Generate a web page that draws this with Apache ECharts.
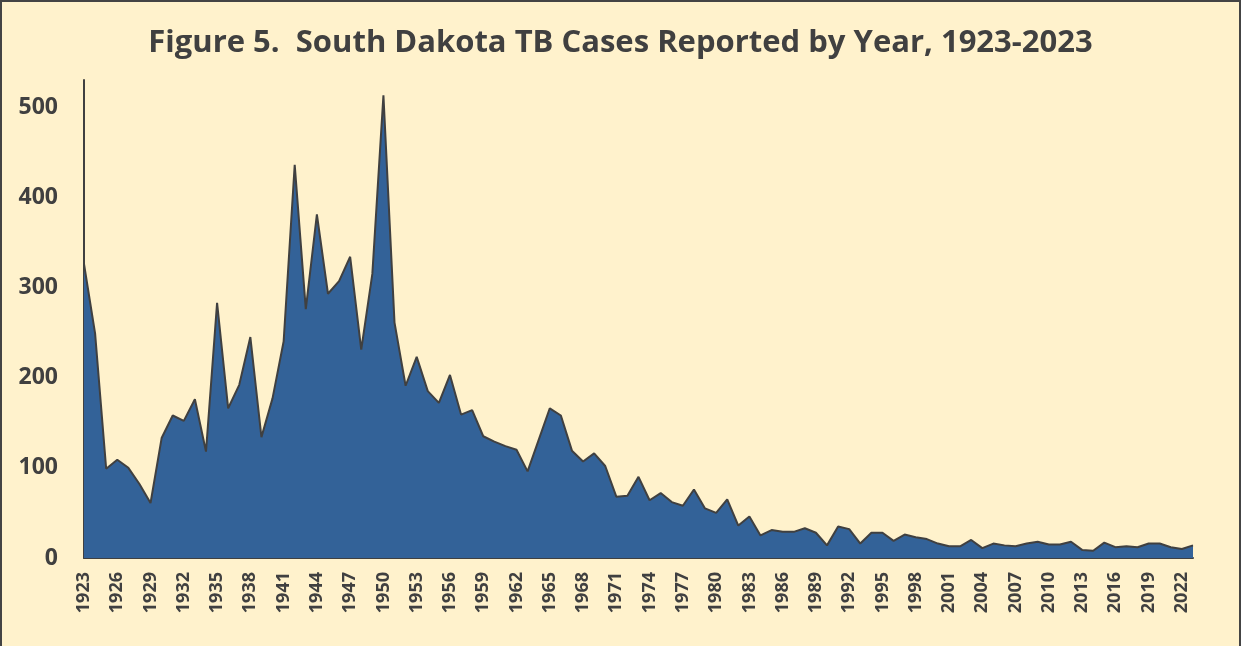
<!DOCTYPE html>
<html>
<head>
<meta charset="utf-8">
<title>South Dakota TB Cases</title>
<script src="https://cdn.jsdelivr.net/npm/echarts@6/dist/echarts.min.js"></script>
<style>
  html, body { margin: 0; padding: 0; background: #FFF2CC; }
  #chart { width: 1241px; height: 646px; }
  #frame {
    position: absolute; left: 0; top: 0; width: 1241px; height: 646px;
    box-sizing: border-box; border: 2px solid #444; border-bottom: none;
    pointer-events: none;
  }
</style>
</head>
<body>
<div id="chart"></div>
<div id="frame"></div>
<script>
// years 1923..2023
var years = [];
for (var y = 1923; y <= 2023; y++) years.push(String(y));

// reported cases per year
var cases = [
  326, 249, 99, 109, 100, 82, 61, 133, 158, 152,     // 1923-1932
  176, 118, 283, 166, 192, 245, 134, 177, 240, 436,  // 1933-1942
  276, 381, 293, 307, 334, 231, 315, 513, 261, 191,  // 1943-1952
  223, 185, 172, 203, 159, 164, 135, 129, 124, 120,  // 1953-1962
  96, 131, 166, 158, 119, 107, 116, 102, 68, 69,     // 1963-1972
  90, 64, 72, 62, 58, 76, 55, 50, 65, 36,            // 1973-1982
  46, 25, 31, 29, 29, 33, 28, 14, 35, 32,            // 1983-1992
  16, 28, 28, 19, 26, 23, 21, 16, 13, 13,            // 1993-2002
  20, 11, 16, 14, 13, 16, 18, 15, 15, 18,            // 2003-2012
  9, 8, 17, 12, 13, 12, 16, 16, 12, 10,              // 2013-2022
  14                                                 // 2023
];

var titleText = 'Figure 5.  South Dakota TB Cases Reported by Year, 1923-2023';
var textColor = '#404040';

var myChart = echarts.init(document.getElementById('chart'));
var option = {
  backgroundColor: '#FFF2CC',
  animation: false,
  title: {
    text: titleText,
    left: 'center',
    top: 23,
    textStyle: {
      fontFamily: 'Open Sans',
      fontWeight: 'bold',
      fontSize: 31,
      color: textColor
    }
  },
  grid: { left: 84, right: 48, top: 80, bottom: 88 },
  xAxis: {
    type: 'category',
    data: years,
    boundaryGap: false,
    axisLine: { show: true, lineStyle: { color: textColor, width: 2 } },
    axisTick: { show: false },
    axisLabel: {
      interval: 2,
      rotate: 90,
      margin: 14,
      color: textColor,
      fontFamily: 'Open Sans',
      fontWeight: 'bold',
      fontSize: 18
    },
    splitLine: { show: false }
  },
  yAxis: {
    type: 'value',
    min: 0,
    max: 530,
    interval: 100,
    axisLine: { show: true, lineStyle: { color: textColor, width: 2 } },
    axisTick: { show: false },
    splitLine: { show: false },
    axisLabel: {
      showMaxLabel: false,
      margin: 26,
      color: textColor,
      fontFamily: 'Open Sans',
      fontWeight: 'bold',
      fontSize: 23
    }
  },
  series: [{
    name: 'TB Cases',
    type: 'line',
    data: cases,
    symbol: 'none',
    lineStyle: { color: textColor, width: 2 },
    areaStyle: { color: '#336298', opacity: 1 }
  }]
};
myChart.setOption(option);
window.addEventListener('resize', function () { myChart.resize(); });
</script>
</body>
</html>
